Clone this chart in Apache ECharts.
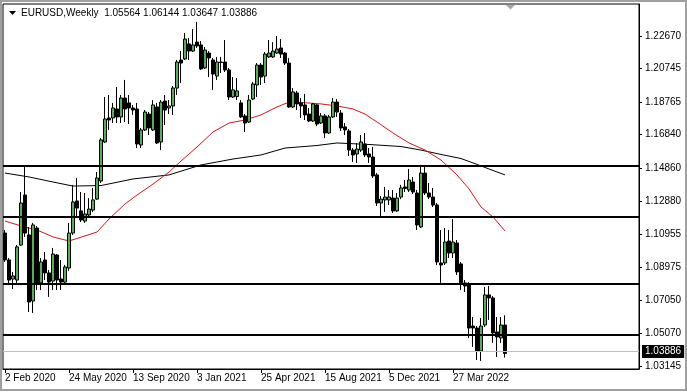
<!DOCTYPE html>
<html><head><meta charset="utf-8">
<script src="https://cdn.jsdelivr.net/npm/echarts@6/dist/echarts.min.js"></script>
<style>html,body{margin:0;padding:0;background:#fff}#c{width:687px;height:392px}</style>
</head><body><div id="c"></div>
<script>
const symbolTitle = 'EURUSD,Weekly';
const firstWeekUTC = [2020, 1, 2];
const slotCount = 159;
const labelEvery = 16;

const opens = [1.1101,1.0942,1.0829,1.0823,1.1030,1.1326,1.1090,1.0699,1.1131,1.0806,
1.0942,1.0865,1.0817,1.0971,1.0829,1.0811,1.0894,1.1101,1.1291,1.1232,
1.1172,1.1208,1.1237,1.1302,1.1409,1.1640,1.1782,1.1782,1.1835,1.1788,
1.1900,1.1871,1.1841,1.1835,1.1622,1.1711,1.1805,1.1711,1.1847,1.1640,
1.1882,1.1841,1.1853,1.1959,1.2125,1.2131,1.2220,1.2178,1.2231,1.2214,
1.2078,1.2166,1.2125,1.2030,1.2113,1.2113,1.2066,1.1906,1.1909,1.1871,
1.1794,1.1758,1.1894,1.1977,1.2095,1.2030,1.2143,1.2143,1.2166,1.2196,
1.2166,1.2107,1.1847,1.1930,1.1871,1.1859,1.1805,1.1764,1.1859,1.1752,
1.1794,1.1693,1.1788,1.1876,1.1811,1.1729,1.1705,1.1592,1.1569,1.1592,
1.1628,1.1569,1.1551,1.1445,1.1279,1.1297,1.1297,1.1308,1.1232,1.1314,
1.1374,1.1356,1.1403,1.1338,1.1137,1.1456,1.1338,1.1314,1.1267,1.0924,
1.0924,1.1054,1.0983,1.1042,1.0918,1.0806,1.0800,1.0551,1.0539,1.0403,
1.0557,1.0735,1.0717,1.0516,1.0480,1.05564];

const highs = [1.1119,1.0953,1.0871,1.1030,1.1344,1.1492,1.1137,1.1161,1.1143,1.0953,
1.0989,1.0882,1.1013,1.0977,1.0942,1.0912,1.1161,1.1386,1.1427,1.1344,
1.1338,1.1308,1.1368,1.1462,1.1663,1.1906,1.1918,1.1871,1.1965,1.1918,
1.2007,1.1918,1.1859,1.1871,1.1723,1.1829,1.1817,1.1888,1.1871,1.1888,
1.1918,1.1888,1.1971,1.2125,1.2178,1.2285,1.2255,1.2308,1.2350,1.2237,
1.2202,1.2178,1.2137,1.2143,1.2143,1.2243,1.2078,1.2024,1.2018,1.1888,
1.1805,1.1918,1.1995,1.2107,1.2107,1.2172,1.2243,1.2231,1.2267,1.2249,
1.2172,1.2137,1.1959,1.1942,1.1900,1.1924,1.1841,1.1871,1.1865,1.1811,
1.1805,1.1800,1.1900,1.1894,1.1829,1.1752,1.1717,1.1604,1.1634,1.1681,
1.1693,1.1604,1.1610,1.1456,1.1320,1.1374,1.1356,1.1356,1.1338,1.1386,
1.1415,1.1480,1.1433,1.1356,1.1504,1.1504,1.1397,1.1368,1.1279,1.1119,
1.1131,1.1119,1.1184,1.1060,1.0930,1.0823,1.0811,1.0604,1.0551,1.0598,
1.0782,1.0788,1.0729,1.0604,1.0604,1.06144];

const lows = [1.0930,1.0800,1.0770,1.0806,1.1025,1.1078,1.0634,1.0628,1.0764,1.0764,
1.0823,1.0723,1.0764,1.0764,1.0764,1.0800,1.0877,1.1090,1.1196,1.1166,
1.1161,1.1190,1.1226,1.1297,1.1397,1.1634,1.1711,1.1752,1.1752,1.1752,
1.1758,1.1746,1.1800,1.1604,1.1604,1.1705,1.1681,1.1705,1.1628,1.1592,
1.1740,1.1805,1.1800,1.1918,1.1989,1.2125,1.2125,1.2172,1.2196,1.2066,
1.2072,1.2024,1.1948,1.2007,1.2048,1.2054,1.1888,1.1900,1.1888,1.1782,
1.1699,1.1752,1.1888,1.1906,1.1977,1.1989,1.2137,1.2137,1.2160,1.2137,
1.2095,1.1841,1.1841,1.1829,1.1782,1.1770,1.1758,1.1758,1.1734,1.1746,
1.1663,1.1687,1.1782,1.1788,1.1705,1.1681,1.1557,1.1521,1.1516,1.1581,
1.1551,1.1516,1.1427,1.1261,1.1190,1.1226,1.1267,1.1220,1.1226,1.1302,
1.1344,1.1344,1.1332,1.1119,1.1131,1.1326,1.1302,1.1255,1.0912,1.0806,
1.0912,1.0953,1.0953,1.0853,1.0764,1.0752,1.0480,1.0427,1.0350,1.0344,
1.0545,1.0587,1.0451,1.0368,1.0451,1.03647];

const closes = [1.0942,1.0823,1.0847,1.1019,1.1279,1.1101,1.0693,1.1149,1.0806,1.0930,
1.0865,1.0811,1.0977,1.0823,1.0811,1.0900,1.1101,1.1285,1.1249,1.1178,
1.1214,1.1243,1.1297,1.1427,1.1652,1.1776,1.1770,1.1841,1.1788,1.1900,
1.1835,1.1841,1.1829,1.1628,1.1711,1.1817,1.1723,1.1859,1.1634,1.1876,
1.1829,1.1853,1.1959,1.2113,1.2107,1.2249,1.2178,1.2214,1.2208,1.2072,
1.2184,1.2137,1.2042,1.2113,1.2110,1.2066,1.1906,1.1948,1.1942,1.1788,
1.1752,1.1888,1.1983,1.2095,1.2024,1.2160,1.2166,1.2178,1.2190,1.2160,
1.2107,1.1847,1.1936,1.1865,1.1853,1.1800,1.1764,1.1865,1.1746,1.1794,
1.1693,1.1788,1.1876,1.1817,1.1723,1.1711,1.1592,1.1563,1.1598,1.1640,
1.1563,1.1551,1.1439,1.1279,1.1302,1.1314,1.1314,1.1232,1.1308,1.1368,
1.1365,1.1415,1.1344,1.1149,1.1456,1.1338,1.1314,1.1267,1.0930,1.0912,
1.1048,1.0983,1.1048,1.0871,1.0806,1.0788,1.0539,1.0539,1.0403,1.0551,
1.0735,1.0717,1.0510,1.0486,1.0557,1.03886];

const redMaIdx = [0,4,8,12,16,20,23,26,30,33,37,41,44,48,52,56,60,64,68,71,75,79,83,87,90,93,97,101,105,109,113,116,119,122,125];
const redMaVal = [1.1172,1.1143,1.1119,1.1078,1.1054,1.1084,1.1107,1.1184,1.1273,1.1326,1.1391,1.1462,1.1527,1.1610,1.1699,1.1752,1.1770,1.1800,1.1847,1.1876,1.1872,1.1865,1.1853,1.1835,1.1805,1.1758,1.1693,1.1634,1.1592,1.1533,1.1445,1.1362,1.1255,1.1196,1.1113];

const blackMaIdx = [0,6,12,17,24,32,41,49,57,64,70,78,83,91,99,104,109,114,117,121,125];
const blackMaVal = [1.1456,1.1433,1.1403,1.1379,1.1382,1.1421,1.1445,1.1504,1.1539,1.1563,1.1604,1.1619,1.1634,1.1625,1.1613,1.1592,1.1566,1.1542,1.1516,1.1480,1.1445];

const levels = [1.15, 1.12, 1.08, 1.05];
const yTickValues = [1.22670,1.20745,1.18765,1.16840,1.14860,1.12880,1.10955,1.08975,1.07050,1.05070,1.03145];
const yMin = 1.02966, yMax = 1.24563;

const MON = ['Jan','Feb','Mar','Apr','May','Jun','Jul','Aug','Sep','Oct','Nov','Dec'];
const categories = [];
for (let i = 0; i < slotCount; i++) {
  const d = new Date(Date.UTC(firstWeekUTC[0], firstWeekUTC[1], firstWeekUTC[2] + 7 * i));
  categories.push(d.getUTCDate() + ' ' + MON[d.getUTCMonth()] + ' ' + d.getUTCFullYear());
}
const barCount = opens.length;
const candles = opens.map((o, i) => [o, closes[i], lows[i], highs[i]]);
const last = barCount - 1;
const lastClose = closes[last];
const headerText = symbolTitle + '  ' + [opens[last], highs[last], lows[last], closes[last]].map(v => v.toFixed(5)).join(' ');

const FONT = 'Liberation Sans';
const showIdx = (idx) => idx % labelEvery === 0 && idx < barCount;

const chart = echarts.init(document.getElementById('c'), null, {renderer: 'canvas'});
chart.setOption({
  animation: false,
  backgroundColor: '#fff',
  grid: {left: 3, top: 4, right: 48, bottom: 23, show: true, borderColor: '#000', borderWidth: 1, backgroundColor: 'transparent'},
  xAxis: {
    type: 'category', data: categories, boundaryGap: true,
    axisLine: {show: true, lineStyle: {color: '#000', width: 1}},
    axisTick: {show: true, alignWithLabel: true, length: 4, interval: (idx) => showIdx(idx), lineStyle: {color: '#000'}},
    axisLabel: {show: true, interval: (idx) => showIdx(idx), align: 'left', margin: 4, color: '#000', fontFamily: FONT, fontSize: 10},
    splitLine: {show: false}
  },
  yAxis: {
    type: 'value', position: 'right', min: yMin, max: yMax, scale: true,
    axisLine: {show: true, lineStyle: {color: '#000'}},
    axisTick: {show: true, length: 3, customValues: yTickValues, lineStyle: {color: '#000'}},
    axisLabel: {show: true, customValues: yTickValues, formatter: (v) => v.toFixed(5), margin: 6, color: '#000', fontFamily: FONT, fontSize: 10},
    splitLine: {show: false}
  },
  series: [
    {
      type: 'line', name: 'MA slow', data: blackMaIdx.map((x, i) => [x, blackMaVal[i]]),
      symbol: 'none', lineStyle: {color: '#000', width: 1}, z: 2, silent: true
    },
    {
      type: 'line', name: 'MA fast', data: redMaIdx.map((x, i) => [x, redMaVal[i]]),
      symbol: 'none', lineStyle: {color: '#D01818', width: 1}, z: 2, silent: true
    },
    {
      type: 'candlestick', name: 'EURUSD', data: candles, barWidth: 3, z: 3,
      itemStyle: {color: '#55B055', color0: '#000', borderColor: '#000', borderColor0: '#000', borderWidth: 1},
      markLine: {
        silent: true, symbol: ['none', 'none'], animation: false,
        data: levels.map(v => ({yAxis: v, lineStyle: {color: '#000', width: 2, type: 'solid'}, label: {show: false}}))
          .concat([{yAxis: lastClose, lineStyle: {color: '#C0C0C0', width: 1, type: 'solid'},
            label: {show: true, position: 'end', distance: 3, formatter: lastClose.toFixed(5), backgroundColor: '#000', color: '#fff', padding: [2, 3, 1, 3], fontFamily: FONT, fontSize: 10}}])
      }
    }
  ],
  graphic: [
    {type: 'rect', shape: {x: 1, y: 1, width: 685, height: 389}, style: {fill: 'none', stroke: '#A0A0A0', lineWidth: 2}, silent: true},
    {type: 'polygon', shape: {points: [[9, 11], [16, 11], [12.5, 15]]}, style: {fill: '#000'}},
    {type: 'text', left: 21, top: 8, style: {text: headerText, fill: '#000', font: '10px "Liberation Sans"'}},
    {type: 'polygon', shape: {points: [[506, 5], [515, 5], [510.5, 9.5]]}, style: {fill: '#A8A8A8'}}
  ]
});
</script>
</body></html>
